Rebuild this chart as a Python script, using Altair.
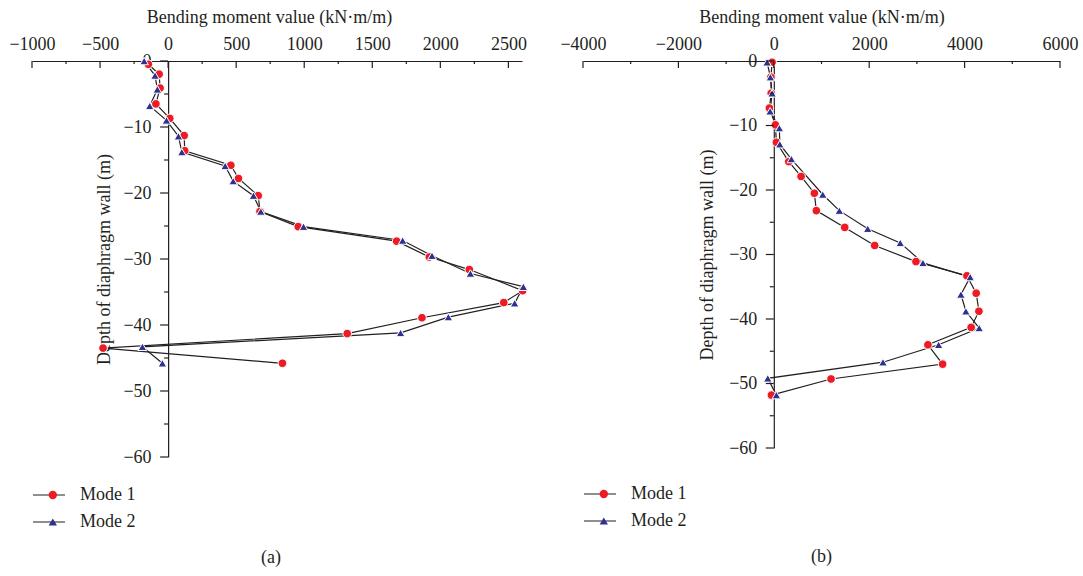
import altair as alt
import pandas as pd

MODES = ["Mode 1", "Mode 2"]
FONT = "Liberation Serif"
INK = "#231f20"
RED = "#ed1c24"
BLUE = "#2e3192"

# (a) bending moment (kN·m/m) along the wall depth (m)
a_depth_1 = [0.5, 2.0, 4.1, 6.5, 8.7, 11.3, 13.6, 15.8, 17.8, 20.4, 22.8, 25.1, 27.3,
             29.7, 31.6, 34.8, 36.6, 38.9, 41.3, 43.5, 45.8]
a_moment_1 = [-145, -66, -59, -90, 12, 118, 122, 461, 517, 662, 675, 956, 1679,
              1919, 2213, 2605, 2466, 1865, 1316, -478, 840]
a_depth_2 = [0.0, 2.2, 4.3, 6.8, 9.0, 11.4, 13.8, 15.9, 18.2, 20.4, 22.8, 25.1, 27.2,
             29.5, 32.2, 34.2, 36.7, 38.8, 41.2, 43.3, 45.8]
a_moment_2 = [-176, -96, -79, -135, -12, 76, 101, 419, 478, 627, 681, 995, 1723,
              1939, 2221, 2610, 2546, 2059, 1708, -189, -42]

# (b) bending moment (kN·m/m) along the wall depth (m)
b_depth_1 = [0.2, 2.5, 5.0, 7.3, 9.9, 12.6, 15.6, 17.9, 20.5, 23.2, 25.8, 28.6, 31.1,
             33.3, 36.0, 38.8, 41.3, 44.0, 47.0, 49.3, 51.8]
b_moment_1 = [-36, -60, -55, -92, 34, 54, 314, 572, 850, 892, 1487, 2115, 2980,
              4048, 4243, 4300, 4138, 3231, 3539, 1200, -50]
b_depth_2 = [0.2, 2.5, 5.0, 7.8, 10.4, 12.9, 15.2, 20.7, 23.2, 26.0, 28.2, 31.3,
             33.5, 36.2, 38.8, 41.4, 44.0, 46.7, 49.2, 51.8]
b_moment_2 = [-140, -71, -36, -77, 117, 126, 369, 1026, 1374, 1969, 2651, 3127,
              4117, 3923, 4027, 4306, 3455, 2289, -126, 54]

# axis ticks
a_x_major = [-1000, -500, 0, 500, 1000, 1500, 2000, 2500]
a_x_minor = [-750, -250, 250, 750, 1250, 1750, 2250]
b_x_major = [-4000, -2000, 0, 2000, 4000, 6000]
b_x_minor = [-3000, -1000, 1000, 3000, 5000]
y_major = [0, -10, -20, -30, -40, -50, -60]
y_minor = [-5, -15, -25, -35, -45, -55]


def panel(m1, d1, m2, d2, xdom, x_major, x_minor, w, h, caption,
          title_x, legend_y, caption_dx, ytitle_x):
    df = pd.concat([
        pd.DataFrame({"mode": MODES[0], "moment": m1,
                      "depth": [-d for d in d1], "seq": list(range(len(m1)))}),
        pd.DataFrame({"mode": MODES[1], "moment": m2,
                      "depth": [-d for d in d2], "seq": list(range(len(m2)))}),
    ], ignore_index=True)

    zero_px = w * (0 - xdom[0]) / (xdom[1] - xdom[0])
    xs = alt.Scale(domain=xdom, nice=False, zero=False)
    ys = alt.Scale(domain=[-60, 0], nice=False, zero=False)

    x_axis = alt.Axis(
        orient="top", values=x_major, format="d", ticks=False, grid=False,
        domainColor=INK, domainWidth=1.2, labelFont=FONT, labelFontSize=18,
        labelColor=INK, labelPadding=8, labelFlush=False,
        title="Bending moment value (kN·m/m)", titleFont=FONT, titleFontSize=18,
        titleFontWeight="normal", titleColor=INK, titlePadding=9, titleX=title_x,
    )
    y_axis = alt.Axis(
        orient="left", offset=-zero_px, values=y_major, format="d", ticks=False,
        grid=False, domainColor=INK, domainWidth=1.2, labelFont=FONT,
        labelFontSize=18, labelColor=INK, labelPadding=17,
        title="Depth of diaphragm wall (m)", titleFont=FONT, titleFontSize=18,
        titleFontWeight="normal", titleColor=INK, titleX=ytitle_x,
        titleBaseline="middle",
    )

    lines = alt.Chart(df).mark_line(strokeWidth=1.2).encode(
        x=alt.X("moment:Q", scale=xs, axis=x_axis),
        y=alt.Y("depth:Q", scale=ys, axis=y_axis),
        stroke=alt.Stroke(
            "mode:N", scale=alt.Scale(domain=MODES, range=[INK, INK]),
            legend=alt.Legend(
                orient="none", legendX=0, legendY=legend_y, title=None,
                symbolType="stroke", symbolSize=1024, symbolStrokeWidth=1.2,
                labelFont=FONT, labelFontSize=18, labelColor=INK, labelOffset=14,
                clipHeight=25, rowPadding=2, padding=0,
            ),
        ),
        order="seq:Q",
    )

    pt_legend = alt.Legend(
        orient="none", legendX=11.8, legendY=legend_y, title=None,
        symbolSize=70, symbolStrokeColor="white", symbolStrokeWidth=1,
        labelExpr="''", labelFontSize=18, clipHeight=25, rowPadding=2, padding=0,
    )
    points = alt.Chart(df).mark_point(
        filled=True, stroke="white", strokeWidth=1, size=75, opacity=1
    ).encode(
        x=alt.X("moment:Q", scale=xs),
        y=alt.Y("depth:Q", scale=ys),
        fill=alt.Fill("mode:N", scale=alt.Scale(range=[RED, BLUE]), legend=pt_legend),
        shape=alt.Shape("mode:N", scale=alt.Scale(range=["circle", "triangle-up"]),
                        legend=pt_legend),
    )

    # inward ticks on the top axis, outward ticks on the depth axis
    def xticks(vals, length):
        return alt.Chart(pd.DataFrame({"moment": vals})).mark_rule(
            color=INK, strokeWidth=1.2, y2Offset=length
        ).encode(
            x=alt.X("moment:Q", scale=xs),
            y=alt.datum(0), y2=alt.datum(0),
        )

    def yticks(vals, length):
        return alt.Chart(pd.DataFrame({"depth": vals})).mark_rule(
            color=INK, strokeWidth=1.2, x2Offset=-length
        ).encode(
            y=alt.Y("depth:Q", scale=ys),
            x=alt.datum(0), x2=alt.datum(0),
        )

    return alt.layer(
        lines, points,
        xticks(x_major, 7), xticks(x_minor, 3),
        yticks(y_major, 8), yticks(y_minor, 4),
    ).properties(
        width=w, height=h,
        title=alt.TitleParams(caption, orient="bottom", font=FONT, fontSize=18,
                              fontWeight="normal", color=INK, offset=14,
                              dx=caption_dx),
    )


left = panel(a_moment_1, a_depth_1, a_moment_2, a_depth_2, [-1000, 2600],
             a_x_major, a_x_minor, 490, 396, "(a)", 237, 421.5, -6, -64)
right = panel(b_moment_1, b_depth_1, b_moment_2, b_depth_2, [-4000, 6000],
              b_x_major, b_x_minor, 477, 387, "(b)", 238.5, 420.5, 0, -66)

chart = alt.hconcat(left, right, spacing=61, bounds="flush").resolve_scale(
    x="independent", y="independent", stroke="independent", fill="independent",
    shape="independent",
).resolve_legend(
    stroke="independent", fill="independent", shape="independent"
).configure_view(strokeWidth=0).properties(
    padding={"left": 8, "top": 8, "right": 5, "bottom": 5},
    background="white",
)

chart.save("out.html", embed_options={"renderer": "svg", "actions": False})
